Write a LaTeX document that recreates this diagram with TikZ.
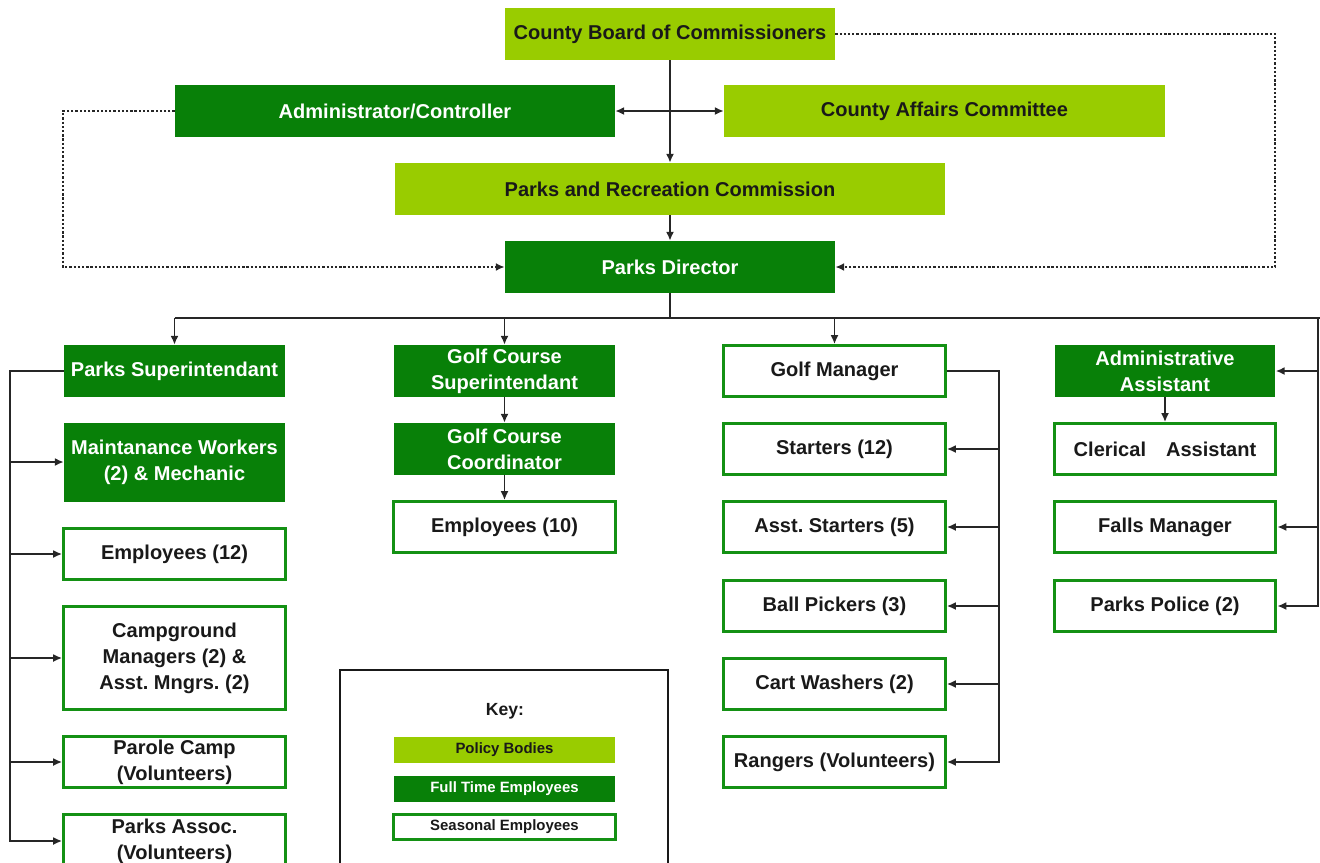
\documentclass[tikz,border=0pt]{standalone}
\usepackage{fontspec}
\setmainfont{Liberation Sans}
\usepackage{xcolor}
\usetikzlibrary{arrows.meta}
\definecolor{policygreen}{RGB}{153,204,0}
\definecolor{staffgreen}{RGB}{8,128,8}
\definecolor{rimgreen}{RGB}{20,145,20}
\newcommand{\boxfont}{\fontsize{11.4}{14.8}\selectfont\bfseries\frenchspacing}
\newcommand{\keyfont}{\fontsize{8.5}{10}\selectfont\bfseries}
\tikzstyle{box}=[minimum width=4.42cm, minimum height=1.04cm, inner sep=0pt, align=center, font=\boxfont]
\tikzstyle{policy}=[box, fill=policygreen, text=black!90]
\tikzstyle{fulltime}=[box, fill=staffgreen, text=white]
\tikzstyle{seasonal}=[box, fill=white, draw=rimgreen, line width=0.06cm, minimum width=4.44cm, minimum height=1.02cm, text=black!90]
\tikzstyle{keybox}=[font=\keyfont, minimum height=0.52cm]
\tikzstyle{plain}=[draw=black!85, line width=0.03cm]
\tikzstyle{link}=[plain, -{Latex[length=5pt,width=4.5pt]}]
\tikzstyle{dotlink}=[draw=black!85, line width=0.035cm, dash pattern=on 1.3pt off 1.1pt, -{Latex[length=5pt,width=4.5pt]}]

\begin{document}
\begin{tikzpicture}[x=0.02cm,y=-0.02cm]
\useasboundingbox (0,0) rectangle (1320,863);
\clip (0,0) rectangle (1320,863);

\node[policy,minimum width=6.6cm] (board) at (670,34) {County Board of Commissioners};
\node[fulltime,minimum width=8.8cm] (admin) at (395,111) {Administrator/Controller};
\node[policy,minimum width=8.82cm] (affairs) at (944.5,111) {County Affairs Committee};
\node[policy,minimum width=11.02cm] (comm) at (670,189) {Parks and Recreation Commission};
\node[fulltime,minimum width=6.6cm] (director) at (670,267) {Parks Director};

\node[fulltime] (psup) at (174.5,371) {Parks Superintendant};
\node[fulltime,minimum height=1.58cm] (maint) at (174.5,462) {Maintanance Workers\\(2) \& Mechanic};
\node[seasonal] (emp12) at (174.5,554) {Employees (12)};
\node[seasonal,minimum height=2.08cm] (camp) at (174.5,658) {Campground\\Managers (2) \&\\Asst. Mngrs. (2)};
\node[seasonal] (parole) at (174.5,762) {Parole Camp\\(Volunteers)};
\node[seasonal,minimum height=1.06cm] (assoc) at (174.5,841) {Parks Assoc.\\(Volunteers)};

\node[fulltime] (gcsup) at (504.5,371) {Golf Course\\Superintendant};
\node[fulltime] (gccoord) at (504.5,449) {Golf Course\\Coordinator};
\node[seasonal] (emp10) at (504.5,527) {Employees (10)};

\node[seasonal] (golfmgr) at (834.5,371) {Golf Manager};
\node[seasonal] (starters) at (834.5,449) {Starters (12)};
\node[seasonal] (asststart) at (834.5,527) {Asst. Starters (5)};
\node[seasonal] (pickers) at (834.5,606) {Ball Pickers (3)};
\node[seasonal] (washers) at (834.5,684) {Cart Washers (2)};
\node[seasonal] (rangers) at (834.5,762) {Rangers (Volunteers)};

\node[fulltime] (aa) at (1165,371) {Administrative\\Assistant};
\node[seasonal] (clerical) at (1165,449) {Clerical\quad Assistant};
\node[seasonal] (falls) at (1165,527) {Falls Manager};
\node[seasonal] (police) at (1165,606) {Parks Police (2)};

\draw[line width=0.04cm, draw=black!90] (340,670) rectangle (668,900);
\node[font=\fontsize{10}{12}\selectfont\bfseries, text=black!90] (keytitle) at (505,711) {Key:};
\node[policy,keybox] (kpolicy) at (504.5,750) {Policy Bodies};
\node[fulltime,keybox] (kfull) at (504.5,788.5) {Full Time Employees};
\node[seasonal,keybox,minimum height=0.5cm] (kseason) at (504.5,827) {Seasonal Employees};

\coordinate (rtop) at (1275,34);
\coordinate (ltop) at (63,111);
\draw[dotlink] (board) -- (rtop) |- (director);
\draw[dotlink] (admin) -- (ltop) |- (director);
\draw[link] (board) -- (comm);
\draw[link] (comm) -- (director);
\draw[plain, {Latex[length=5pt,width=4.5pt]}-{Latex[length=5pt,width=4.5pt]}] (admin) -- (affairs);

\coordinate (busl) at (174.5,318);
\coordinate (busr) at (1318,318);
\draw[plain] (director) -- (director |- busl);
\draw[plain] (busl) -- (busr) -- (1330,318);
\draw[link] (busl) -- (psup);
\draw[link] (gcsup |- busl) -- (gcsup);
\draw[link] (golfmgr |- busl) -- (golfmgr);
\foreach \n in {aa,falls,police} \draw[link] (busr) |- (\n);
\draw[link] (aa) -- (clerical);
\draw[link] (gcsup) -- (gccoord);
\draw[link] (gccoord) -- (emp10);

\coordinate (gmbus) at (999,371);
\foreach \n in {starters,asststart,pickers,washers,rangers} \draw[link] (golfmgr) -- (gmbus) |- (\n);
\coordinate (psbus) at (10,371);
\foreach \n in {maint,emp12,camp,parole,assoc} \draw[link] (psup) -- (psbus) |- (\n);
\end{tikzpicture}
\end{document}
